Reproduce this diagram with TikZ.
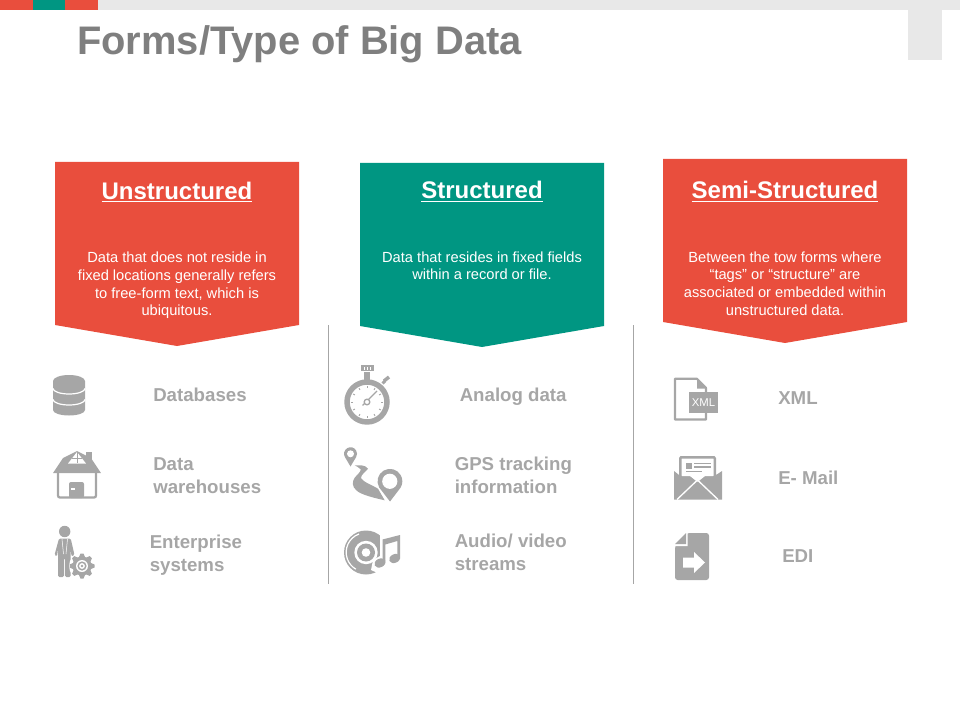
\documentclass[tikz,border=0pt]{standalone}
\usepackage{fontspec}
\setmainfont{Liberation Sans}
\usepackage{tikz}
\usetikzlibrary{positioning}
\definecolor{redbox}{HTML}{E94E3D}
\definecolor{tealbox}{HTML}{009682}
\definecolor{icongray}{HTML}{A6A6A6}
\definecolor{titlegray}{HTML}{7F7F7F}
\definecolor{stripgray}{HTML}{E8E8E8}
\tikzset{
    head/.style={text=white, inner sep=0pt, font=\fontsize{18}{21}\selectfont\bfseries},
    body/.style={text=white, inner sep=0pt, align=center, font=\fontsize{11}{13.3}\selectfont},
    item/.style={text=icongray, inner sep=0pt, anchor=west, align=left, font=\fontsize{14}{17.3}\selectfont\bfseries},
    icon/.style={fill=icongray, draw=none},
    hole/.style={fill=white, draw=none},
    divider/.style={draw=icongray, line width=0.6pt},
}

\begin{document}
\begin{tikzpicture}[x=0.75pt, y=-0.75pt]
    \useasboundingbox (0,0) rectangle (960,720);

    % top strip
    \fill[stripgray] (98,0) rectangle (960,10);
    \fill[stripgray] (908,10) rectangle (942,60);
    \fill[redbox] (0,0) rectangle (33,10);
    \fill[tealbox] (33,0) rectangle (65,10);
    \fill[redbox] (65,0) rectangle (98,10);
    \node[inner sep=0pt, anchor=west, text=titlegray, font=\fontsize{29.9}{36}\selectfont\bfseries] (title) at (77,44) {Forms/Type of Big Data};

    % banners
    \fill[redbox] (55,162) -- (299,162) -- (299,325) -- (177,346) -- (55,325) -- cycle;
    \fill[tealbox] (360,163) -- (604,163) -- (604,326) -- (482,347) -- (360,326) -- cycle;
    \fill[redbox] (663,159) -- (907,159) -- (907,322) -- (785,343) -- (663,322) -- cycle;

    \node[head] (unstructured) at (177,192) {\underline{Unstructured}};
    \node[head] (structured) at (482,191.5) {\underline{Structured}};
    \node[head] (semi) at (785,191.5) {\underline{Semi-Structured}};

    \node[body, below=37pt of unstructured] (unstructured-text) {Data that does not reside in\\fixed locations generally refers\\to free-form text, which is\\ubiquitous.};
    \node[body, below=37pt of structured] (structured-text) {Data that resides in fixed fields\\within a record or file.};
    \node[body, below=37pt of semi] (semi-text) {Between the tow forms where\\“tags” or “structure” are\\associated or embedded within\\unstructured data.};

    % dividers
    \coordinate (div1-top) at (328.5,325);
    \coordinate (div1-bot) at (328.5,584);
    \coordinate (div2-top) at (633.5,325);
    \coordinate (div2-bot) at (633.5,584);
    \draw[divider] (div1-top) -- (div1-bot);
    \draw[divider] (div2-top) -- (div2-bot);

    % item labels
    \node[item] (databases) at (153,395) {Databases};
    \node[item] (warehouses) at (153,476) {Data\\warehouses};
    \node[item] (enterprise) at (149.5,555) {Enterprise\\systems};
    \node[item] (analog) at (459.5,396.5) {Analog data};
    \node[item] (gps) at (454.5,475) {GPS tracking\\information};
    \node[item] (audio) at (454.5,552) {Audio/ video\\streams};
    \node[item] (xml) at (778,398.5) {XML};
    \node[item] (email) at (778,478) {E- Mail};
    \node[item] (edi) at (782,556.5) {EDI};

    % database icon
    \fill[icon] (53,381) arc[start angle=180, end angle=360, x radius=16, y radius=6] -- (85,410) arc[start angle=0, end angle=180, x radius=16, y radius=5.5] -- cycle;
    \draw[white, line width=0.9pt] (53,388.5) arc[start angle=180, end angle=0, x radius=16, y radius=5.5];
    \draw[white, line width=0.9pt] (53,399.5) arc[start angle=180, end angle=0, x radius=16, y radius=5.5];

    % house icon
    \draw[icongray, line width=1.7pt, rounded corners=1.5pt] (58,472) -- (58,497.5) -- (96,497.5) -- (96,472);
    \fill[icon] (86,452) rectangle (92,462);
    \fill[icon] (53,473) -- (63,458) -- (77,451) -- (91,458) -- (101,473) -- cycle;
    \fill[hole] (68,463.5) -- (77,452) -- (86,463.5) -- cycle;
    \draw[icongray, line width=0.5pt] (77,452) -- (77,463) (72,458.5) -- (82,458.5);
    \fill[icon, rounded corners=1.5pt] (69,498) -- (69,482) -- (84,482) -- (84,498) -- cycle;
    \fill[hole] (71,488) rectangle (75,490);

    % person with gear icon
    \fill[icon] (64.7,531.5) circle[radius=5.7];
    \fill[icon, rounded corners=1pt] (59,538.5) -- (70.7,538.5) -- (74.5,555) -- (71.5,556.5) -- (70.7,549) -- (70.7,577) -- (65,577) -- (65,558) -- (64,558) -- (64,577) -- (58,577) -- (58,549) -- (57,556.5) -- (54.5,555) -- cycle;
    \draw[white, line width=0.4pt] (62,539) -- (63.5,554) (67.5,539) -- (66,554);
    \fill[hole] (82,566) circle[radius=13];
    \foreach \a in {0,45,...,315}
        \fill[icon, rotate around={\a:(82,566)}] (79,557) -- (80.5,553.5) -- (83.5,553.5) -- (85,557) -- cycle;
    \fill[icon] (82,566) circle[radius=9.5];
    \fill[hole] (82,566) circle[radius=6];
    \fill[icon] (82,566) circle[radius=4.6];
    \fill[hole] (82,566) circle[radius=2.9];
    \fill[icon] (82,566) circle[radius=1.4];

    % stopwatch icon
    \draw[icongray, line width=4.1pt] (367,402) circle[radius=20];
    \fill[icon] (364,372) rectangle (369.5,380);
    \fill[icon] (361,365) rectangle (373.5,371);
    \fill[hole] (364,366.5) rectangle (365,369.5);
    \fill[hole] (367,366.5) rectangle (368,369.5);
    \fill[hole] (370,366.5) rectangle (371,369.5);
    \draw[icongray, line width=2.2pt] (382.5,383.5) -- (385,381);
    \draw[icongray, line width=2.6pt] (384,381) -- (389,377);
    \foreach \a in {0,30,...,330}
        \draw[icongray, line width=0.7pt] (367,402) ++(\a:14) -- ++(\a:2);
    \draw[icongray, line width=1pt] (362.5,405.5) -- (377,391);
    \draw[icongray, line width=1pt, fill=white] (367,402) circle[radius=2.8];

    % gps road icon
    \fill[icon] (350.5,466.5) -- (344.9,457) arc[start angle=150, end angle=390, radius=6.5] -- cycle;
    \fill[hole] (350.5,453.8) circle[radius=3.5];
    \fill[icon] (354.7,465.3) .. controls (360,465.5) and (365,464.5) .. (368,468.7) .. controls (366,471.5) and (361,474.5) .. (361,478) .. controls (363,482) and (372,485) .. (378,488.7) -- (384.7,500.3) .. controls (375,498) and (361,495) .. (356.3,490.3) .. controls (352,486.5) and (352,482) .. (354.5,478) .. controls (357,474.5) and (361,472) .. (360.7,469.3) .. controls (359,467) and (356,466.5) .. cycle;
    \fill[icon] (390,501.5) -- (379.2,487.5) arc[start angle=150, end angle=390, radius=12.4] -- cycle;
    \fill[hole] (389.8,481.3) circle[radius=7.6];

    % disc and note icon
    \fill[icon] (366,552.5) circle[radius=22];
    \draw[white, line width=0.9pt] (359,534) arc[start angle=250, end angle=120, radius=19.5];
    \fill[hole] (366,552.5) circle[radius=11.7];
    \fill[icon] (366,552.5) circle[radius=9];
    \fill[hole] (366,552.5) circle[radius=4.3];
    \fill[hole] (380,535) -- (402,531) -- (402,562) -- (394,568) -- (380,574) -- (371,570) -- (373,560) -- (380,556) -- cycle;
    \fill[icon] (382.5,539.5) -- (400,535) -- (400,558.5) -- (397.3,558.5) -- (397.3,541) -- (385.3,544.5) -- (385.3,563) -- (382.5,563) -- cycle;
    \fill[icon, rotate around={25:(380,563)}] (380,563) ellipse[x radius=5.8, y radius=4.3];
    \fill[icon, rotate around={25:(394.7,558.5)}] (394.7,558.5) ellipse[x radius=5.8, y radius=4.3];

    % xml file icon
    \draw[icongray, line width=1.6pt, line join=round] (697,378.8) -- (675,378.8) -- (675,419.5) -- (706,419.5) -- (706,388) -- cycle;
    \fill[icon] (697,379) -- (697,388.5) -- (706,388.5) -- cycle;
    \fill[icon] (689,392) rectangle (718,413) node[midway, inner sep=0pt, text=white, font=\fontsize{8.5}{10}\selectfont] (xml-tag) {XML};

    % mail icon
    \fill[icon] (674,471) -- (679,475) -- (679,458) -- (680.5,456) -- (714.5,456) -- (716,458) -- (716,475) -- (722,471) -- (722,499.5) -- (674,499.5) -- cycle;
    \draw[white, line width=1pt] (677,499.5) -- (697.5,480) -- (718,499.5);
    \fill[hole, rounded corners=0.5pt] (681.5,458.5) -- (713.7,458.5) -- (713.7,476) -- (705,476) -- (697.5,482) -- (690,476) -- (681.5,476) -- cycle;
    \fill[icon] (686,462.5) rectangle (691.5,469);
    \fill[icon] (694,462.5) rectangle (711,464);
    \fill[icon] (694,466) rectangle (711,467.5);
    \fill[icon] (686,471) rectangle (702,472);

    % edi file icon
    \fill[icon, rounded corners=2pt] (687,533) -- (709,533) -- (709,580) -- (675,580) -- (675,546) -- cycle;
    \fill[hole] (686,532) -- (687.5,532) -- (687.5,546) -- (674,546) -- (674,544.5) -- cycle;
    \fill[icon] (675,544) -- (686,544) -- (686,533) -- cycle;
    \fill[hole] (683,557.5) -- (694,557.5) -- (694,552) -- (705,562.5) -- (694,573) -- (694,567.5) -- (683,567.5) -- cycle;
\end{tikzpicture}
\end{document}
